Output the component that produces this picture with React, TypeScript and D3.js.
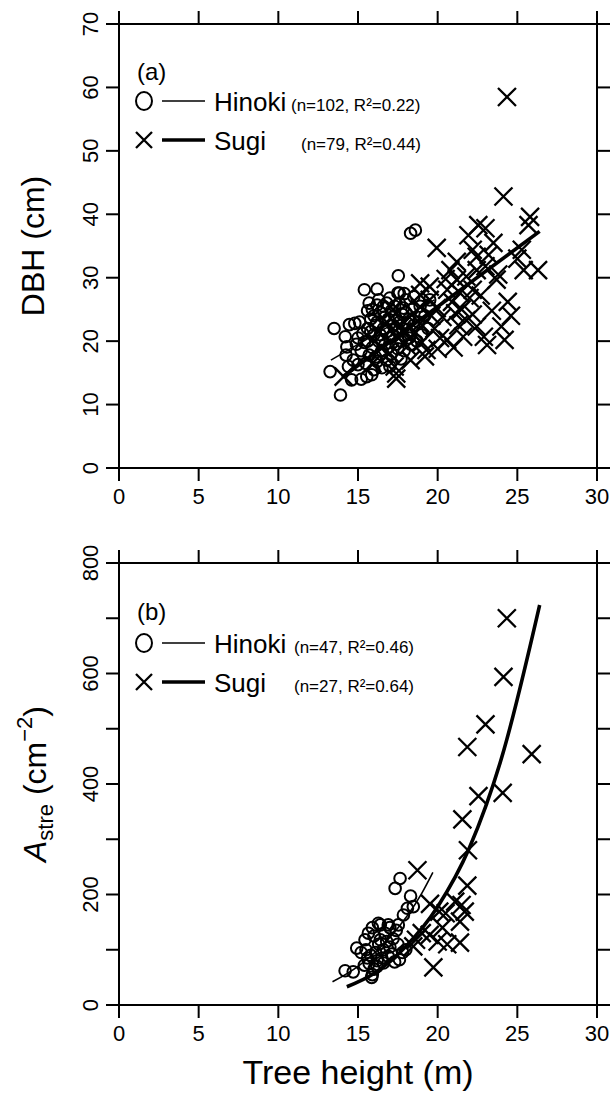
import React, { useRef, useEffect } from "react";
import * as d3 from "d3";

// Panel (a): tree height (m) vs DBH (cm)
const hinokiDbh: [number, number][] = [
  [13.25, 15.2], [13.5, 22.0], [13.9, 11.5], [14.2, 20.7], [14.3, 19.1], [14.25, 17.8], [14.46, 22.6], [14.8, 22.8],
  [14.6, 13.9], [15.55, 14.4], [15.86, 14.7], [15.4, 28.1], [16.2, 25.7], [16.8, 26.0], [17.85, 25.2], [17.53, 30.3],
  [17.5, 27.6], [18.3, 37.0], [18.6, 37.5], [17.6, 27.6], [15.0, 20.5], [15.2, 18.5], [15.6, 22.0], [15.8, 23.5],
  [15.9, 19.0], [16.0, 21.0], [16.1, 17.5], [16.2, 23.0], [16.3, 20.0], [16.4, 24.5], [16.5, 18.5], [16.6, 22.0],
  [16.7, 19.5], [16.8, 21.5], [16.9, 23.5], [17.0, 20.5], [17.1, 18.0], [17.2, 22.5], [17.3, 24.0], [17.4, 19.5],
  [17.5, 21.5], [17.6, 23.0], [17.7, 20.0], [17.8, 22.0], [17.9, 18.5], [18.0, 24.5], [18.1, 21.0], [18.2, 23.5],
  [18.3, 19.5], [18.5, 22.5], [15.5, 16.5], [15.7, 17.8], [16.0, 15.5], [16.2, 16.8], [16.5, 15.8], [16.8, 17.0],
  [17.0, 16.0], [15.3, 21.2], [15.6, 24.8], [15.9, 25.0], [16.3, 26.5], [16.6, 25.5], [17.0, 26.8], [17.3, 25.5],
  [17.6, 26.0], [18.0, 26.5], [18.4, 25.0], [18.8, 23.0], [19.0, 21.0], [19.2, 24.0], [18.7, 20.0], [15.1, 23.0],
  [14.9, 19.5], [14.7, 17.0], [15.4, 19.8], [15.8, 21.5], [16.1, 22.5], [16.4, 21.0], [16.7, 23.8], [17.2, 20.8],
  [17.5, 18.8], [17.8, 24.2], [18.1, 22.8], [16.5, 20.2], [15.6, 20.0], [16.9, 19.0], [17.4, 22.0], [18.2, 20.5],
  [18.9, 25.5], [19.4, 22.0], [16.0, 24.0], [15.2, 14.0], [14.4, 16.0], [16.4, 18.0], [17.1, 24.8], [15.7, 26.0],
  [17.9, 27.5], [16.2, 28.2], [18.5, 27.0], [15.0, 16.3], [17.7, 17.2], [19.5, 26.5],
];

const sugiDbh: [number, number][] = [
  [24.35, 58.5], [24.13, 42.8], [25.8, 39.6], [25.7, 38.3], [22.55, 38.3], [23.0, 37.8], [21.93, 36.7], [19.94, 34.7],
  [25.28, 34.4], [21.2, 32.5], [22.45, 33.3], [23.2, 33.6], [25.4, 31.2], [26.3, 31.2], [21.8, 30.2], [23.0, 31.8],
  [23.7, 29.7], [19.5, 28.6], [20.6, 28.1], [18.9, 27.3], [21.4, 27.6], [22.2, 28.1], [19.94, 25.2], [21.1, 24.4],
  [21.8, 23.3], [22.45, 22.3], [22.9, 20.7], [24.0, 22.3], [24.2, 20.2], [23.1, 19.4], [21.6, 20.7], [20.6, 20.2],
  [19.3, 18.6], [20.15, 20.5], [18.9, 22.8], [18.3, 20.7], [18.5, 24.4], [17.4, 14.1], [17.3, 16.0], [18.3, 17.0],
  [17.0, 18.1], [18.9, 25.4], [19.5, 26.5], [21.2, 29.7], [22.45, 31.2], [20.8, 31.2], [22.2, 34.4], [14.1, 14.4],
  [18.9, 29.1], [19.2, 17.6], [17.4, 14.9], [16.5, 19.0], [17.8, 21.5], [16.8, 23.0], [17.6, 22.2], [18.1, 19.2],
  [19.8, 22.0], [20.3, 23.8], [20.9, 26.2], [21.5, 25.0], [22.0, 26.8], [22.7, 27.2], [23.4, 24.8], [24.4, 26.2],
  [25.0, 33.0], [20.0, 18.8], [21.0, 19.0], [22.2, 24.2], [23.8, 30.5], [20.5, 29.8], [16.3, 21.5], [17.2, 25.0],
  [19.6, 24.0], [23.5, 35.5], [15.9, 16.5], [18.6, 21.4], [24.6, 24.0], [21.3, 22.5], [19.0, 19.8],
];

const hinokiDbhFit: [number, number][] = [[13.3, 17.0], [19.8, 26.5]];
const sugiDbhFit: [number, number][] = [[14.0, 14.3], [26.4, 37.3]];

// Panel (b): tree height (m) vs A_stre (cm^-2)
const hinokiA: [number, number][] = [
  [17.64, 229], [17.33, 211], [18.3, 197], [18.47, 178], [18.1, 175], [17.85, 163], [17.53, 145], [16.28, 148],
  [16.9, 145], [15.65, 130], [15.44, 118], [14.92, 103], [14.19, 62], [14.7, 60], [15.86, 50], [15.9, 55],
  [16.0, 65], [15.7, 75], [16.2, 80], [16.5, 85], [15.8, 90], [16.1, 95], [16.6, 100], [17.0, 105],
  [16.3, 110], [15.5, 100], [16.8, 115], [17.2, 120], [16.0, 125], [16.7, 130], [17.4, 135], [15.9, 140],
  [16.4, 145], [17.1, 92], [17.3, 78], [17.6, 82], [16.9, 88], [17.8, 95], [15.6, 85], [16.2, 70],
  [15.4, 72], [16.6, 76], [17.5, 110], [18.0, 100], [17.0, 140], [16.4, 118], [15.2, 95],
];

const sugiA: [number, number][] = [
  [24.34, 700], [24.13, 594], [23.0, 508], [21.86, 467], [25.9, 454], [22.56, 378], [24.08, 384], [21.55, 336],
  [21.9, 280], [18.73, 244], [21.86, 216], [19.52, 183], [20.1, 169], [21.1, 187], [21.5, 181], [21.7, 169],
  [20.5, 166], [21.4, 151], [18.64, 118], [19.5, 127], [20.0, 115], [20.6, 110], [21.4, 113], [19.73, 68],
  [18.47, 106], [20.3, 140], [19.0, 130],
];

const hinokiAFit: [number, number][] = [[13.4, 42], [15, 70], [17, 122], [19, 202], [19.7, 240]];
const sugiAFit: [number, number][] = [[14.3, 33], [16, 57], [18, 106], [20, 178], [22, 285], [24, 446], [26.4, 724]];

const xTicks = [0, 5, 10, 15, 20, 25, 30];
const yTicksA = [0, 10, 20, 30, 40, 50, 60, 70];
const yTicksB = [0, 100, 200, 300, 400, 500, 600, 700, 800];
const yLabelsB = [0, 200, 400, 600, 800];

const FONT = "Liberation Sans, Arial, Helvetica, sans-serif";

export default function App() {
  const ref = useRef<SVGSVGElement>(null);

  useEffect(() => {
    if (!ref.current) return;
    const svg = d3.select(ref.current);
    svg.selectAll("*").remove();

    const x = d3.scaleLinear().domain([0, 30]).range([119, 597]);
    const yA = d3.scaleLinear().domain([0, 70]).range([468, 24]);
    const yB = d3.scaleLinear().domain([0, 800]).range([1005, 563]);
    const tk = 13;

    const panel = (y: d3.ScaleLinear<number, number>, yTicks: number[], yLabels: number[]) => {
      const g = svg.append("g");
      const [y0, y1] = y.range();
      const [x0, x1] = x.range();
      g.append("rect").attr("x", x0).attr("y", y1).attr("width", x1 - x0).attr("height", y0 - y1)
        .attr("fill", "none").attr("stroke", "#000").attr("stroke-width", 2);
      // ticks on all four sides, pointing outward
      xTicks.forEach((t) => {
        g.append("line").attr("x1", x(t)).attr("x2", x(t)).attr("y1", y0).attr("y2", y0 + tk).attr("stroke", "#000").attr("stroke-width", 2);
        g.append("line").attr("x1", x(t)).attr("x2", x(t)).attr("y1", y1).attr("y2", y1 - tk).attr("stroke", "#000").attr("stroke-width", 2);
        g.append("text").attr("x", x(t)).attr("y", y0 + 36).attr("text-anchor", "middle")
          .attr("font-family", FONT).attr("font-size", 22).text(t);
      });
      yTicks.forEach((t) => {
        g.append("line").attr("x1", x0).attr("x2", x0 - tk).attr("y1", y(t)).attr("y2", y(t)).attr("stroke", "#000").attr("stroke-width", 2);
        g.append("line").attr("x1", x1).attr("x2", x1 + tk).attr("y1", y(t)).attr("y2", y(t)).attr("stroke", "#000").attr("stroke-width", 2);
      });
      yLabels.forEach((t) => {
        g.append("text").attr("transform", `translate(${x0 - 21},${y(t)}) rotate(-90)`).attr("text-anchor", "middle")
          .attr("font-family", FONT).attr("font-size", 22).text(t);
      });
      return g;
    };

    const drawData = (g: any, y: d3.ScaleLinear<number, number>, hin: [number, number][], sug: [number, number][],
      hinFit: [number, number][], sugFit: [number, number][]) => {
      g.selectAll(null).data(hin).enter().append("circle")
        .attr("cx", (d: [number, number]) => x(d[0])).attr("cy", (d: [number, number]) => y(d[1])).attr("r", 5.8)
        .attr("fill", "none").attr("stroke", "#000").attr("stroke-width", 2);
      const s = 9;
      g.selectAll(null).data(sug).enter().append("path")
        .attr("d", (d: [number, number]) => {
          const cx = x(d[0]), cy = y(d[1]);
          return `M${cx - s},${cy - s}L${cx + s},${cy + s}M${cx - s},${cy + s}L${cx + s},${cy - s}`;
        })
        .attr("fill", "none").attr("stroke", "#000").attr("stroke-width", 2.3);
      const line = d3.line<[number, number]>().x((d) => x(d[0])).y((d) => y(d[1])).curve(d3.curveMonotoneX);
      g.append("path").attr("d", line(hinFit)).attr("fill", "none").attr("stroke", "#000").attr("stroke-width", 1.6);
      g.append("path").attr("d", line(sugFit)).attr("fill", "none").attr("stroke", "#000").attr("stroke-width", 3.6);
    };

    const legend = (g: any, label: string, top: number, r1: number, r2: number,
      hinTxt: string, sugTxt: string, hinX: number, sugX: number) => {
      g.append("text").attr("x", 137).attr("y", top).attr("font-family", FONT).attr("font-size", 24).text(label);
      g.append("ellipse").attr("cx", 144).attr("cy", r1).attr("rx", 8).attr("ry", 9)
        .attr("fill", "none").attr("stroke", "#000").attr("stroke-width", 2);
      const s = 8;
      g.append("path").attr("d", `M${144 - s},${r2 - s}L${144 + s},${r2 + s}M${144 - s},${r2 + s}L${144 + s},${r2 - s}`)
        .attr("stroke", "#000").attr("stroke-width", 2.3);
      g.append("line").attr("x1", 162).attr("x2", 205).attr("y1", r1).attr("y2", r1).attr("stroke", "#000").attr("stroke-width", 1.5);
      g.append("line").attr("x1", 162).attr("x2", 205).attr("y1", r2).attr("y2", r2).attr("stroke", "#000").attr("stroke-width", 3.6);
      g.append("text").attr("x", 214).attr("y", r1 + 9.5).attr("font-family", FONT).attr("font-size", 26).text("Hinoki");
      g.append("text").attr("x", 214).attr("y", r2 + 9.5).attr("font-family", FONT).attr("font-size", 26).text("Sugi");
      g.append("text").attr("x", hinX).attr("y", r1 + 9.5).attr("font-family", FONT).attr("font-size", 17).text(hinTxt);
      g.append("text").attr("x", sugX).attr("y", r2 + 9.5).attr("font-family", FONT).attr("font-size", 17).text(sugTxt);
    };

    const gA = panel(yA, yTicksA, yTicksA);
    drawData(gA, yA, hinokiDbh, sugiDbh, hinokiDbhFit, sugiDbhFit);
    legend(gA, "(a)", 80, 101, 140, "(n=102, R\u00B2=0.22)", "(n=79, R\u00B2=0.44)", 291, 301);

    const gB = panel(yB, yTicksB, yLabelsB);
    drawData(gB, yB, hinokiA, sugiA, hinokiAFit, sugiAFit);
    legend(gB, "(b)", 620, 643, 682, "(n=47, R\u00B2=0.46)", "(n=27, R\u00B2=0.64)", 294, 294);

    // axis titles
    svg.append("text").attr("transform", `translate(44,${yA(35)}) rotate(-90)`).attr("text-anchor", "middle")
      .attr("font-family", FONT).attr("font-size", 32).text("DBH (cm)");
    const tb = svg.append("text").attr("transform", `translate(46,${yB(400)}) rotate(-90)`).attr("text-anchor", "middle")
      .attr("font-family", FONT).attr("font-size", 32);
    tb.append("tspan").attr("font-style", "italic").text("A");
    tb.append("tspan").attr("font-size", 22).attr("dy", 7).text("stre");
    tb.append("tspan").attr("dy", -7).text(" (cm");
    tb.append("tspan").attr("font-size", 22).attr("dy", -14).text("\u22122");
    tb.append("tspan").attr("dy", 14).text(")");
    svg.append("text").attr("x", x(15)).attr("y", 1084).attr("text-anchor", "middle")
      .attr("font-family", FONT).attr("font-size", 34).text("Tree height (m)");
  }, []);

  return (
    <svg ref={ref} width={612} height={1096} style={{ position: "absolute", left: 0, top: 0, background: "#fff" }} />
  );
}
